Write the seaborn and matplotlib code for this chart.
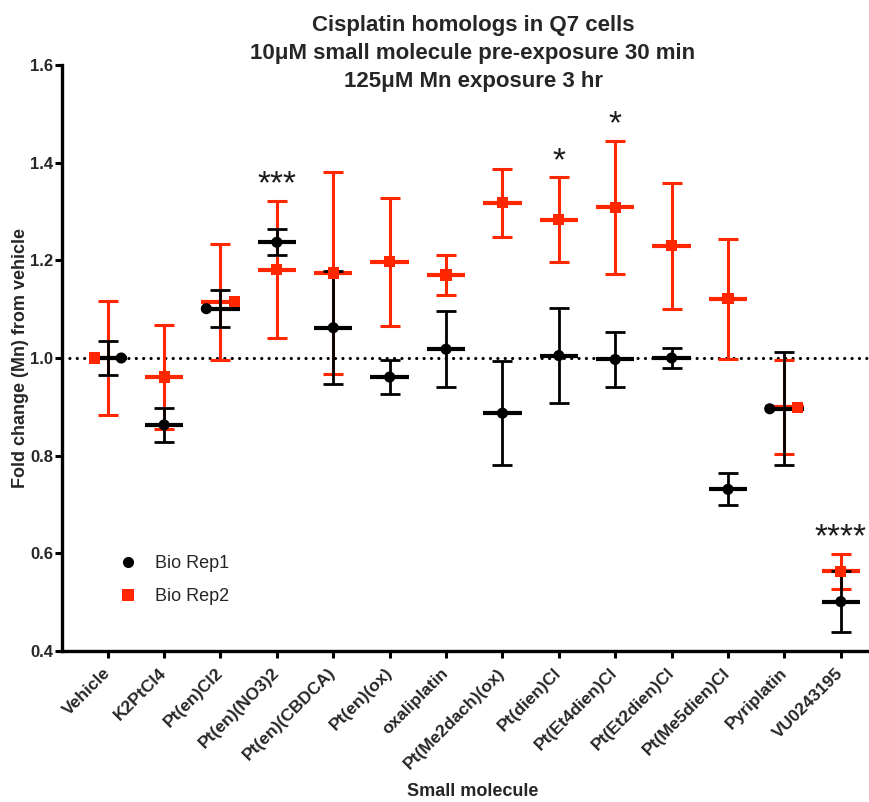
import numpy as np
import pandas as pd
import matplotlib
matplotlib.use("Agg")
import matplotlib.pyplot as plt
import seaborn as sns

# ---------------- data ----------------
categories = ['Vehicle', 'K2PtCl4', 'Pt(en)Cl2', 'Pt(en)(NO3)2', 'Pt(en)(CBDCA)',
              'Pt(en)(ox)', 'oxaliplatin', 'Pt(Me2dach)(ox)', 'Pt(dien)Cl',
              'Pt(Et4dien)Cl', 'Pt(Et2dien)Cl', 'Pt(Me5dien)Cl', 'Pyriplatin', 'VU0243195']
rep1_mean = [1.000, 0.863, 1.101, 1.237, 1.062, 0.961, 1.018, 0.887, 1.005, 0.997, 1.000, 0.731, 0.896, 0.501]
rep1_sd = [0.034, 0.034, 0.038, 0.027, 0.116, 0.035, 0.078, 0.106, 0.097, 0.057, 0.020, 0.033, 0.116, 0.062]
rep2_mean = [1.000, 0.961, 1.115, 1.181, 1.174, 1.197, 1.170, 1.318, 1.283, 1.309, 1.230, 1.121, 0.899, 0.563]
rep2_sd = [0.116, 0.106, 0.119, 0.141, 0.207, 0.131, 0.040, 0.070, 0.087, 0.136, 0.129, 0.123, 0.096, 0.036]
significance = ['', '', '', '***', '', '', '', '', '*', '*', '', '', '', '****']
series_names = ['Bio Rep1', 'Bio Rep2']

# ---------------- style ----------------
RED = '#FF2600'
BLACK = '#000000'
FONT = ['Liberation Sans', 'DejaVu Sans']

sns.set_theme(style='ticks')
plt.rcParams['font.family'] = FONT

# horizontal nudges of markers where the two replicates overlap (layout only)
nudge = {0: (0.24, -0.24), 2: (-0.25, 0.25), 12: (-0.26, 0.24)}

pos = np.arange(len(categories))
rows = []
for i in pos:
    n1, n2 = nudge.get(i, (0.0, 0.0))
    rows.append({'pos': i + n1, 'value': rep1_mean[i], 'Replicate': series_names[0]})
    rows.append({'pos': i + n2, 'value': rep2_mean[i], 'Replicate': series_names[1]})
df = pd.DataFrame(rows)

fig = plt.figure(figsize=(8.69, 8.02), dpi=100)
ax = fig.add_axes([62 / 869, (802 - 651) / 802, (869 - 62) / 869, (651 - 65) / 802])

# dotted reference line at 1.0
ax.axhline(1.0, color='black', lw=2.3, linestyle=(0, (0.01, 2.3)),
           dash_capstyle='round', zorder=1)

# error bars (mean +/- SD) and mean lines
half = 0.34
for means, sds, col, z, lw in [(rep1_mean, rep1_sd, BLACK, 3, 2.0),
                               (rep2_mean, rep2_sd, RED, 2, 2.2)]:
    ax.errorbar(pos, means, yerr=sds, fmt='none', ecolor=col, elinewidth=lw,
                capsize=7.5, capthick=lw, zorder=z)
    ax.hlines(means, pos - half, pos + half, colors=col, lw=3.0, zorder=z)

sns.scatterplot(data=df, x='pos', y='value', hue='Replicate', style='Replicate',
                palette={series_names[0]: BLACK, series_names[1]: RED},
                markers={series_names[0]: 'o', series_names[1]: 's'},
                s=64, linewidth=0, ax=ax, zorder=5, legend=True)

# significance stars
for i, lab in enumerate(significance):
    if lab:
        top = max(rep1_mean[i] + rep1_sd[i], rep2_mean[i] + rep2_sd[i])
        ax.text(i, top + 0.032, lab, ha='center', va='center', fontsize=24,
                color='#1a1a1a', family=FONT)

# axes styling
ax.set_xlim(-0.81, 13.5)
ax.set_ylim(0.4, 1.6)
ax.set_yticks(np.arange(0.4, 1.61, 0.2))
ax.set_yticklabels([f'{v:.1f}' for v in np.arange(0.4, 1.61, 0.2)])
ax.set_xticks(pos)
ax.set_xticklabels(categories, rotation=45, ha='right', va='center',
                   rotation_mode='anchor')
for lab in ax.get_xticklabels():
    lab.set_fontweight('bold')
    lab.set_fontsize(12.5)
for lab in ax.get_yticklabels():
    lab.set_fontweight('bold')
    lab.set_fontsize(12)
ax.tick_params(axis='x', length=5, width=2.2, pad=9, color='black')
ax.tick_params(axis='y', length=5, width=2.2, pad=1.5, color='black')
for s in ['top', 'right']:
    ax.spines[s].set_visible(False)
for s in ['left', 'bottom']:
    ax.spines[s].set_linewidth(2.4)
    ax.spines[s].set_color('black')
ax.set_facecolor('white')
ax.grid(False)

ax.set_xlabel('Small molecule', fontsize=13, fontweight='bold')
ax.set_ylabel('Fold change (Mn) from vehicle', fontsize=13, fontweight='bold')
ax.xaxis.set_label_coords((473 - 62) / 807, -0.226)
ax.yaxis.set_label_coords(-(62 - 29) / 807, 0.5)

# legend
handles, labels = ax.get_legend_handles_labels()
leg = ax.legend(handles, labels, loc='upper left', bbox_to_anchor=(0.05, 0.176),
                frameon=False, fontsize=13, handletextpad=0.5, labelspacing=0.9,
                markerscale=1.0, borderaxespad=0)
for t in leg.get_texts():
    t.set_family(FONT)

# title
fig.text(473 / 869, 1 - 25 / 802, 'Cisplatin homologs in Q7 cells', ha='center',
         va='center', fontsize=16, fontweight='bold')
fig.text(473 / 869, 1 - 54 / 802, '10\u03bcM small molecule pre-exposure 30 min',
         ha='center', va='center', fontsize=16, fontweight='bold')
fig.text(473 / 869, 1 - 81 / 802, '125\u03bcM Mn exposure 3 hr', ha='center',
         va='center', fontsize=16, fontweight='bold')

fig.savefig('out.png', dpi=100, facecolor='white')
